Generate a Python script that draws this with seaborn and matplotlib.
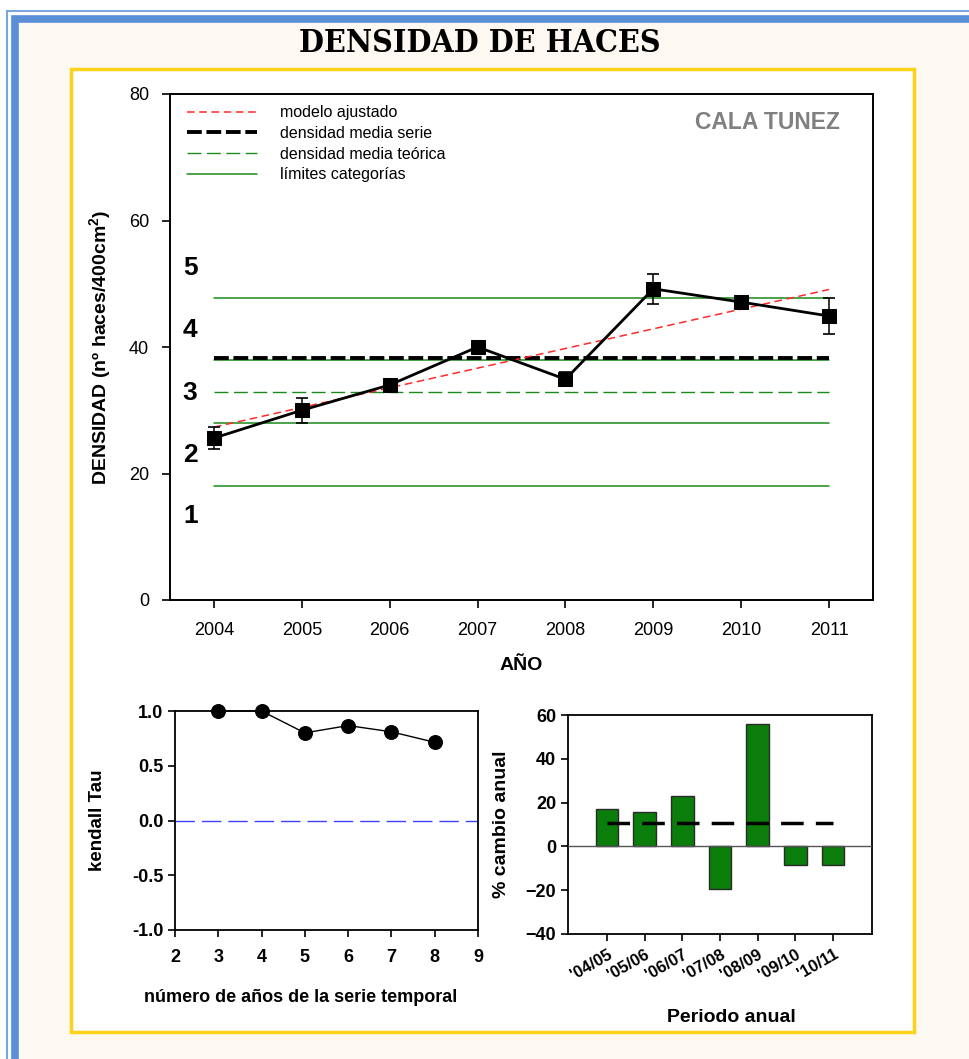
import numpy as np
import pandas as pd
import matplotlib
matplotlib.use("Agg")
import matplotlib.pyplot as plt
from matplotlib.lines import Line2D
from matplotlib.patches import Rectangle
import seaborn as sns

# ---- data ----
years = [2004, 2005, 2006, 2007, 2008, 2009, 2010, 2011]
density = [25.6, 30.0, 34.0, 40.0, 34.9, 49.2, 47.1, 44.9]
density_err = [1.7, 2.0, 1.0, 1.0, 1.1, 2.4, 1.0, 2.9]
category_limits = [47.7, 38.0, 28.0, 18.0]
theoretical_mean = 32.9
category_labels = ["5", "4", "3", "2", "1"]
category_label_y = [52.5, 42.7, 32.7, 22.9, 13.3]

series_length = [3, 4, 5, 6, 7, 8]
kendall_tau = [1.0, 1.0, 0.80, 0.867, 0.81, 0.714]

periods = ["'04/05", "'05/06", "'06/07", "'07/08", "'08/09", "'09/10", "'10/11"]
pct_change = [17.0, 15.5, 23.2, -19.4, 55.7, -8.7, -8.5]

# ---- style ----
sns.set_theme(style="ticks")
plt.rcParams["font.family"] = ["Liberation Sans", "DejaVu Sans"]
plt.rcParams["mathtext.fontset"] = "custom"
plt.rcParams["mathtext.rm"] = "Liberation Sans"
plt.rcParams["mathtext.bf"] = "Liberation Sans:bold"
plt.rcParams["axes.facecolor"] = "white"
for key in ["text.color", "axes.labelcolor", "xtick.color", "ytick.color",
            "axes.edgecolor"]:
    plt.rcParams[key] = "black"

W, H = 969, 1059
fig = plt.figure(figsize=(W / 100, H / 100), dpi=100)
fig.patch.set_facecolor("white")


def px_rect(x0, y0, x1, y1):
    """figure-fraction rectangle from pixel corners (origin top-left)"""
    return [x0 / W, 1 - y1 / H, (x1 - x0) / W, (y1 - y0) / H]


# page frame: thin outer blue line, thick blue band, cream panel, yellow box
fig.patches.append(Rectangle((7 / W, -0.1), 1.2, 1 - 7 / H + 0.1 - 4 / H,
                             transform=fig.transFigure, facecolor="none",
                             edgecolor="#7aa6e0", lw=1.5, zorder=-5))
fig.patches.append(Rectangle((14.5 / W, -0.1), 1.2, 1 - 14.5 / H + 0.1 - 4 / H,
                             transform=fig.transFigure, facecolor="#fdf8f1",
                             edgecolor="#5a8fd6", lw=5.5, zorder=-4))
fig.patches.append(Rectangle((71 / W, 1 - 1032 / H), (914 - 71) / W, (1032 - 69) / H,
                             transform=fig.transFigure, facecolor="white",
                             edgecolor="#ffd21a", lw=2.5, zorder=-3))

fig.text(480 / W, 1 - 44 / H, "DENSIDAD DE HACES", ha="center", va="center",
         fontsize=23, fontweight="bold", family="DejaVu Serif",
         fontstretch="condensed")

# ---- main density chart ----
ax = fig.add_axes(px_rect(170, 94, 873, 600))
df = pd.DataFrame({"year": years, "density": density})

red, green = "#ff2a2a", "#1a8a1a"
x0, x1 = years[0], years[-1]

for lim in category_limits:
    ax.plot([x0, x1], [lim, lim], color=green, lw=1.1, zorder=2)
theo = ax.plot([x0, x1], [theoretical_mean] * 2, color=green, lw=1.0, zorder=2)[0]
theo.set_dashes([10, 4])
mean_line = ax.plot([x0, x1], [np.mean(density)] * 2, color="black", lw=2.8, zorder=3)[0]
mean_line.set_dashes([3.8, 1.2])

slope, intercept = np.polyfit(years, density, 1)
fit_x = np.array([x0, x1])
fit_line = ax.plot(fit_x, slope * fit_x + intercept, color=red, lw=1.1, zorder=4)[0]
fit_line.set_dashes([5, 3])

ax.errorbar(years, density, yerr=density_err, fmt="none", ecolor="black",
            elinewidth=1.1, capsize=4.5, capthick=1.2, zorder=5)
sns.lineplot(data=df, x="year", y="density", ax=ax, color="black", lw=2.0,
             marker="s", markersize=10, markeredgecolor="black", zorder=6)

for lab, yv in zip(category_labels, category_label_y):
    ax.text(2003.73, yv, lab, ha="center", va="center", fontsize=19,
            fontweight="bold")

ax.text(0.953, 0.943, "CALA TUNEZ", transform=ax.transAxes, ha="right",
        va="center", fontsize=16.5, fontweight="bold", color="#808080")

ax.set_xlim(2003.5, 2011.5)
ax.set_ylim(0, 80)
ax.set_xticks(years)
ax.set_yticks([0, 20, 40, 60, 80])
ax.tick_params(axis="both", labelsize=13, direction="out", length=6, width=1.2,
               pad=9)
ax.tick_params(axis="x", pad=10)
for s in ax.spines.values():
    s.set_linewidth(1.4)
ax.set_xlabel("AÑO", fontsize=14, fontweight="bold")
ax.xaxis.set_label_coords(0.5, (600 - 665) / 506)
ax.xaxis.label.set_va("center")
ax.set_ylabel(r"DENSIDAD (nº haces/400cm$^{\mathbf{2}}$)", fontsize=14,
              fontweight="bold")
ax.yaxis.set_label_coords((101 - 170) / 703, 0.5)
ax.yaxis.label.set_va("center")

h_fit = Line2D([], [], color=red, lw=1.1, dashes=[5, 3])
h_mean = Line2D([], [], color="black", lw=2.8, dashes=[3.8, 1.2])
h_theo = Line2D([], [], color=green, lw=1.0, dashes=[10, 4])
h_lim = Line2D([], [], color=green, lw=1.1)
ax.legend([h_fit, h_mean, h_theo, h_lim],
          ["modelo ajustado", "densidad media serie", "densidad media teórica",
           "límites categorías"],
          loc="upper left", bbox_to_anchor=(0.024, 0.978), frameon=False,
          fontsize=11.5, handlelength=4.4, handletextpad=1.4, labelspacing=0.36,
          borderaxespad=0, borderpad=0)

# ---- Kendall tau chart ----
ax2 = fig.add_axes(px_rect(175, 711, 478, 930))
tau_df = pd.DataFrame({"n": series_length, "tau": kendall_tau})
ax2.axhline(0, color="#4040ff", lw=1.0, dashes=[14, 5], zorder=1)
sns.lineplot(data=tau_df, x="n", y="tau", ax=ax2, color="black", lw=1.0,
             marker="o", markersize=10, markeredgecolor="black", zorder=3,
             clip_on=False)
ax2.set_xlim(2, 9)
ax2.set_ylim(-1, 1)
ax2.set_xticks(range(2, 10))
ax2.set_yticks([-1.0, -0.5, 0.0, 0.5, 1.0])
ax2.set_yticklabels([f"{v:.1f}" for v in [-1.0, -0.5, 0.0, 0.5, 1.0]])
ax2.tick_params(axis="both", labelsize=13, direction="out", length=5, width=1.2)
ax2.tick_params(axis="x", pad=9)
for lbl in ax2.get_xticklabels() + ax2.get_yticklabels():
    lbl.set_fontweight("bold")
for s in ax2.spines.values():
    s.set_linewidth(1.3)
ax2.set_xlabel("número de años de la serie temporal", fontsize=13,
               fontweight="bold")
ax2.xaxis.set_label_coords((301 - 175) / 303, (930 - 997) / 219)
ax2.xaxis.label.set_va("center")
ax2.set_ylabel("kendall Tau", fontsize=13.5, fontweight="bold")
ax2.yaxis.set_label_coords((98 - 175) / 303, 0.5)
ax2.yaxis.label.set_va("center")

# ---- annual change bars ----
ax3 = fig.add_axes(px_rect(568, 715, 872, 934))
bar_df = pd.DataFrame({"period": periods, "pct": pct_change})
sns.barplot(data=bar_df, x="period", y="pct", ax=ax3, color="#0b7d0b",
            saturation=1, width=0.6, edgecolor="#2a2a2a", linewidth=1.0, zorder=2)
ax3.axhline(0, color="#555555", lw=1.0, zorder=3)
avg = ax3.plot([0, len(periods) - 1], [np.mean(pct_change)] * 2, color="black",
               lw=2.5, zorder=4)[0]
avg.set_dashes([6.5, 3.5])
ax3.set_xlim(-1.03, len(periods) - 1 + 1.03)
ax3.set_ylim(-40, 60)
ax3.set_yticks([-40, -20, 0, 20, 40, 60])
ax3.tick_params(axis="y", labelsize=13, direction="out", length=5, width=1.2)
ax3.tick_params(axis="x", labelsize=12, direction="out", length=5, width=1.2,
                pad=4)
plt.setp(ax3.get_xticklabels(), rotation=30, ha="right", rotation_mode="anchor",
         fontweight="bold")
for lbl in ax3.get_yticklabels():
    lbl.set_fontweight("bold")
for s in ax3.spines.values():
    s.set_linewidth(1.3)
ax3.set_xlabel("Periodo anual", fontsize=14, fontweight="bold")
ax3.xaxis.set_label_coords((731 - 568) / 304, (934 - 1017) / 219)
ax3.xaxis.label.set_va("center")
ax3.set_ylabel("% cambio anual", fontsize=14, fontweight="bold")
ax3.yaxis.set_label_coords((502 - 568) / 304, 0.5)
ax3.yaxis.label.set_va("center")

fig.savefig("out.png", dpi=100, facecolor=fig.get_facecolor())
